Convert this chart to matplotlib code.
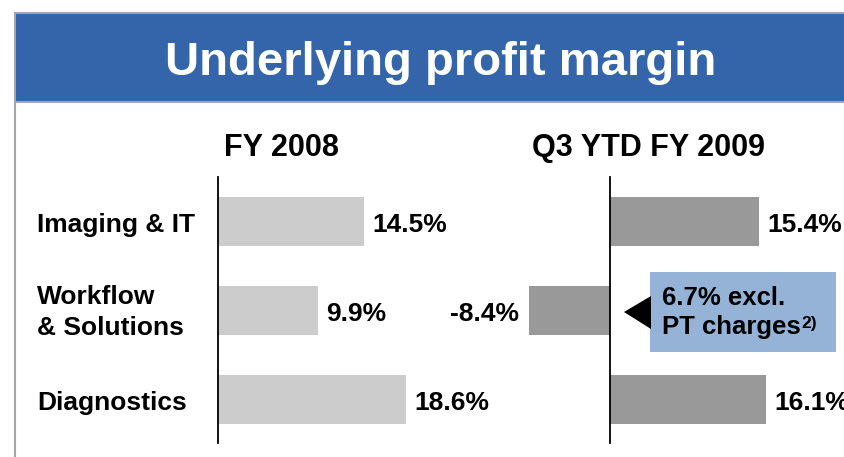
import matplotlib.pyplot as plt
from matplotlib.patches import Rectangle, Polygon
from matplotlib.transforms import blended_transform_factory

plt.rcParams['font.family'] = ['Liberation Sans', 'DejaVu Sans']
plt.rcParams['font.weight'] = 'bold'

# data
segments = ['Imaging & IT', 'Workflow\n& Solutions', 'Diagnostics']
fy2008 = [14.5, 9.9, 18.6]
q3ytd2009 = [15.4, -8.4, 16.1]
panel_titles = ['FY 2008', 'Q3 YTD FY 2009']
note_lines = ['6.7% excl.', 'PT charges']
note_sup = '2)'

W, H = 845, 457
fig = plt.figure(figsize=(W / 100, H / 100), dpi=100)


def fx(px):
    return px / W


def fy(py):
    return 1 - py / H


# frame and header
fig.add_artist(Rectangle((fx(16), fy(101)), fx(W) - fx(16), fy(13) - fy(101),
                         transform=fig.transFigure, facecolor='#3465AA',
                         edgecolor='none'))
fig.add_artist(plt.Line2D([fx(15.5), 1], [fy(12.5), fy(12.5)], color='#A6A6A6', lw=1.5,
                          transform=fig.transFigure))
fig.add_artist(plt.Line2D([fx(16), 1], [fy(101.5), fy(101.5)], color='#A6A6A6', lw=1.5,
                          transform=fig.transFigure))
fig.add_artist(plt.Line2D([fx(15.5), fx(15.5)], [0, fy(12.5)], color='#A6A6A6', lw=1.5,
                          transform=fig.transFigure))
fig.text(fx(440.5), fy(75), 'Underlying profit margin', color='white',
         fontsize=34, ha='center', va='baseline')

# bar panels (axes span y pixels 177..443)
y0, y1 = 177, 443
pos = [0, 1, 2]
step = 89
ylim = (2 + (y1 - 399) / step, -(221.5 - y0) / step)

axL = fig.add_axes([fx(218), fy(y1), fx(500) - fx(218), (y1 - y0) / H])
axL.set_xlim(0, (500 - 218) / 10.1)
axR = fig.add_axes([fx(500), fy(y1), fx(W) - fx(500), (y1 - y0) / H])
axR.set_xlim(-(610 - 500) / 9.7, (W - 610) / 9.7)

for ax, vals, col in [(axL, fy2008, '#CCCCCC'), (axR, q3ytd2009, '#999999')]:
    ax.set_ylim(*ylim)
    ax.barh(pos, vals, height=0.55, color=col, zorder=1)
    for s in ['top', 'right', 'bottom']:
        ax.spines[s].set_visible(False)
    ax.spines['left'].set_position(('data', 0))
    ax.spines['left'].set_linewidth(1.3)
    ax.spines['left'].set_zorder(3)
    ax.set_xticks([])
    ax.set_yticks([])
    ax.patch.set_visible(False)
    for p, v in zip(pos, vals):
        lbl = f'{v:.1f}%'
        if v >= 0:
            ax.annotate(lbl, (v, p), xytext=(6, -7.6), textcoords='offset points',
                        ha='left', va='baseline', fontsize=19, annotation_clip=False)
        else:
            ax.annotate(lbl, (v, p), xytext=(-7, -7.6), textcoords='offset points',
                        ha='right', va='baseline', fontsize=19, annotation_clip=False)

# category labels
tr = blended_transform_factory(fig.transFigure, axL.transData)
for p, name in zip(pos, segments):
    lines = name.split('\n')
    n = len(lines)
    for k, line in enumerate(lines):
        dy = 10.5 + (k - (n - 1) / 2) * 31 - (1.5 if n > 1 else 0)
        axL.annotate(line, (fx(37), p), xycoords=tr, xytext=(0, -dy * 0.72),
                     textcoords='offset points', ha='left', va='baseline',
                     fontsize=19, annotation_clip=False)

# panel headers
fig.text(fx(281.5), fy(156), panel_titles[0], fontsize=22, ha='center', va='baseline')
fig.text(fx(649), fy(156), panel_titles[1], fontsize=22, ha='center', va='baseline')

# callout
fig.add_artist(Rectangle((fx(650), fy(352)), fx(836) - fx(650), fy(272) - fy(352),
                         transform=fig.transFigure, facecolor='#95B3D7', edgecolor='none'))
fig.add_artist(Polygon([(fx(624), fy(312)), (fx(651), fy(296)), (fx(651), fy(329))],
                       closed=True, transform=fig.transFigure, facecolor='black',
                       edgecolor='none'))
fig.text(fx(662), fy(305), note_lines[0], fontsize=18.5, ha='left', va='baseline')
t2 = fig.text(fx(662), fy(334), note_lines[1], fontsize=18.5, ha='left', va='baseline')
ann = plt.annotate(note_sup, xy=(1, 1), xycoords=t2, xytext=(0.8, -0.5),
                   textcoords='offset points', ha='left', va='top', fontsize=12.5)
fig.add_artist(ann)

fig.savefig('out.png', dpi=100)
